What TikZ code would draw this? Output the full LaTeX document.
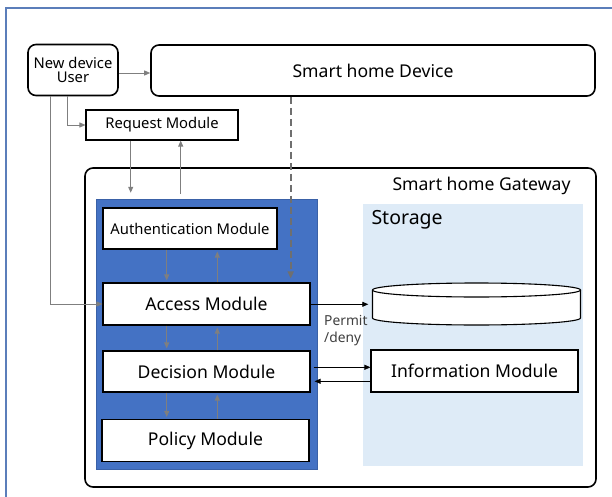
\documentclass[tikz,border=0pt]{standalone}
\usepackage{fontspec}
\setmainfont{Noto Sans}
\usetikzlibrary{arrows.meta}

\definecolor{framecol}{HTML}{5B7EBA}
\definecolor{blockblue}{HTML}{4472C4}
\definecolor{storefill}{HTML}{DEEBF7}
\definecolor{arrowgray}{HTML}{7F7F7F}
\definecolor{dashgray}{HTML}{6F6F6F}
\definecolor{notegray}{HTML}{404040}

\tikzset{
    rbox/.style={draw, line width=1.6pt, rounded corners=8pt, fill=white, inner sep=0pt, align=center},
    modbox/.style={draw, line width=1.1pt, fill=white, inner sep=0pt},
    garrow/.style={draw=arrowgray, line width=0.9pt, -{Triangle[length=6pt,width=5pt]}},
    barrow/.style={draw=black, line width=0.8pt, -{Triangle[length=6pt,width=5pt]}},
    bigfont/.style={font=\fontsize{17.6}{20}\selectfont},
    midfont/.style={font=\fontsize{14.8}{17}\selectfont},
}

\begin{document}
\begin{tikzpicture}[x=1pt,y=-1pt]
    \useasboundingbox (0,0) rectangle (612,497);
    \draw[framecol, line width=1.4pt] (6,500)--(6,8)--(615,8);

    % top row
    \node[rbox, midfont, minimum width=90, minimum height=51] (user) at (73,70) {New device\\[-3pt]User};
    \node[rbox, bigfont, minimum width=444, minimum height=51] (device) at (373,70.5) {Smart home Device};
    \node[modbox, midfont, minimum width=152, minimum height=30] (request) at (162,125) {Request Module};

    % gateway and its parts
    \node[rbox, minimum width=511, minimum height=319] (gateway) at (340.5,327.5) {};
    \node[bigfont, anchor=east] (gwlabel) at (574,186) {Smart home Gateway};
    \node[fill=blockblue, draw=blockblue!85!black, line width=0.5pt, minimum width=221, minimum height=270] (block) at (206.5,334) {};
    \node[fill=storefill, minimum width=220, minimum height=262] (storage) at (473,335) {};
    \node[font=\fontsize{19.5}{22}\selectfont, anchor=west] (stlabel) at (368,220) {Storage};

    \node[modbox, midfont, minimum width=174, minimum height=41] (auth) at (190,228.5) {Authentication Module};
    \node[modbox, bigfont, minimum width=207, minimum height=42] (access) at (206.5,304) {Access Module};
    \node[modbox, bigfont, minimum width=207, minimum height=41] (decision) at (206.5,371.5) {Decision Module};
    \node[modbox, bigfont, minimum width=207, minimum height=42] (policy) at (205.5,440.5) {Policy Module};
    \node[modbox, bigfont, minimum width=207, minimum height=42] (info) at (474.5,371) {Information Module};

    % database
    \node[minimum width=208, minimum height=42] (db) at (476.5,304) {};
    \draw[line width=1.1pt, fill=white] (372.5,290)--(372.5,318) arc[start angle=180, end angle=360, x radius=104pt, y radius=7pt]--(580.5,290);
    \draw[line width=1.1pt, fill=white] (476.5,290) ellipse[x radius=104pt, y radius=7pt];

    % arrow columns
    \coordinate (dn) at (166.7,0);
    \coordinate (up) at (217.3,0);
    \coordinate (rqdn) at (130.7,0);
    \coordinate (rqup) at (180.7,0);
    \coordinate (lline) at (50,0);
    \coordinate (rline) at (67.7,0);
    \coordinate (dash) at (290.7,0);
    \coordinate (dqy) at (0,367.3);
    \coordinate (qdy) at (0,381.3);

    \draw[garrow] ([yshift=-3pt]user.east)--([yshift=-3pt]user.east -| device.west);
    \draw[garrow] (user.south -| rline) |- (request.west);
    \draw[garrow] (user.south -| lline) |- (access.west);
    \draw[garrow, shorten >=6pt] (request.south -| rqdn)--(block.north -| rqdn);
    \draw[garrow, shorten <=5pt] (block.north -| rqup)--(request.south -| rqup);
    \draw[draw=dashgray, line width=1.9pt, dash pattern=on 7pt off 4pt, -{Triangle[length=7pt,width=6pt]}, shorten >=4pt] (device.south -| dash)--(access.north -| dash);

    \foreach \a/\b in {auth/access, access/decision, decision/policy}{
        \draw[garrow, shorten >=2pt] (\a.south -| dn)--(\b.north -| dn);
        \draw[garrow, shorten >=2pt] (\b.north -| up)--(\a.south -| up);
    }

    \draw[barrow, shorten >=4pt] ([yshift=-0.3pt]access.east)--([yshift=-0.3pt]access.east -| db.west);
    \node[notegray, font=\fontsize{13.8}{17}\selectfont, align=left, anchor=north west, inner sep=0pt] (permit) at (324,315.5) {Permit\\/deny};
    \draw[barrow, shorten <=3pt] (decision.east |- dqy)--(info.west |- dqy);
    \draw[barrow, shorten >=4pt] (info.west |- qdy)--(decision.east |- qdy);
\end{tikzpicture}
\end{document}
